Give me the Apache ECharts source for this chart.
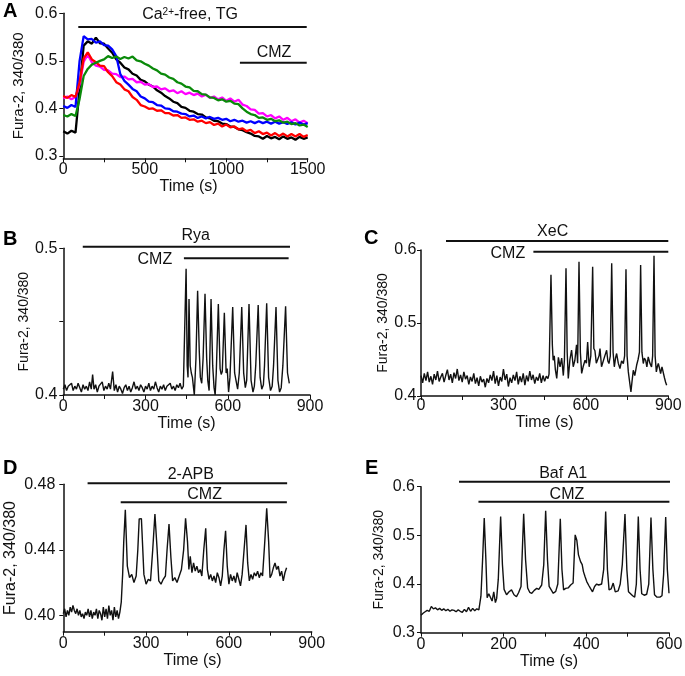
<!DOCTYPE html>
<html><head><meta charset="utf-8">
<script src="https://cdn.jsdelivr.net/npm/echarts@6/dist/echarts.min.js"></script>
<style>html,body{margin:0;padding:0;background:#fff}#c{width:685px;height:676px}</style>
</head><body><div id="c"></div>
<script>
// ---------- Panel A data (time in s, Fura-2 ratio) ----------
const timeA = [0,25,50,75,100,125,150,175,200,225,250,275,300,325,350,375,400,425,450,475,500,525,550,575,600,625,650,675,700,725,750,775,800,825,850,875,900,925,950,975,1000,1025,1050,1075,1100,1125,1150,1175,1200,1225,1250,1275,1300,1325,1350,1375,1400,1425,1450,1475,1500];
const aBlack = [0.352,0.347,0.353,0.349,0.440,0.532,0.541,0.536,0.549,0.537,0.536,0.526,0.517,0.503,0.496,0.486,0.482,0.473,0.469,0.460,0.457,0.450,0.446,0.438,0.433,0.426,0.421,0.414,0.411,0.403,0.401,0.395,0.393,0.388,0.387,0.381,0.379,0.374,0.373,0.368,0.367,0.362,0.361,0.356,0.354,0.350,0.347,0.342,0.341,0.336,0.342,0.337,0.340,0.335,0.341,0.336,0.339,0.334,0.340,0.336,0.339];
const aRed = [0.426,0.422,0.428,0.424,0.455,0.505,0.518,0.503,0.497,0.490,0.489,0.476,0.468,0.455,0.450,0.440,0.436,0.424,0.418,0.407,0.404,0.399,0.400,0.395,0.396,0.390,0.390,0.385,0.386,0.380,0.381,0.376,0.377,0.372,0.374,0.369,0.371,0.365,0.368,0.362,0.366,0.360,0.362,0.356,0.358,0.352,0.355,0.348,0.352,0.346,0.349,0.343,0.348,0.342,0.347,0.341,0.346,0.341,0.346,0.340,0.344];
const aBlue = [0.405,0.401,0.407,0.403,0.500,0.552,0.545,0.546,0.538,0.541,0.533,0.532,0.524,0.510,0.472,0.458,0.450,0.441,0.436,0.425,0.421,0.414,0.413,0.407,0.406,0.400,0.399,0.394,0.393,0.389,0.388,0.383,0.385,0.380,0.383,0.379,0.382,0.378,0.380,0.376,0.378,0.373,0.376,0.372,0.374,0.370,0.373,0.369,0.373,0.369,0.372,0.368,0.372,0.368,0.371,0.367,0.371,0.366,0.370,0.366,0.369];
const aMagenta = [0.421,0.425,0.419,0.424,0.450,0.498,0.513,0.497,0.490,0.488,0.481,0.480,0.473,0.472,0.466,0.467,0.461,0.462,0.455,0.456,0.450,0.451,0.445,0.446,0.440,0.442,0.436,0.438,0.432,0.436,0.430,0.433,0.428,0.431,0.425,0.429,0.422,0.425,0.419,0.423,0.416,0.421,0.414,0.418,0.408,0.405,0.398,0.397,0.389,0.390,0.383,0.386,0.379,0.383,0.376,0.380,0.373,0.377,0.370,0.374,0.369];
const aGreen = [0.386,0.383,0.388,0.384,0.420,0.468,0.483,0.492,0.496,0.500,0.503,0.510,0.506,0.509,0.504,0.508,0.505,0.509,0.501,0.499,0.494,0.490,0.484,0.480,0.473,0.471,0.465,0.462,0.455,0.452,0.446,0.444,0.437,0.436,0.430,0.429,0.423,0.422,0.417,0.419,0.414,0.416,0.410,0.409,0.400,0.393,0.388,0.386,0.380,0.381,0.376,0.378,0.373,0.375,0.370,0.372,0.367,0.369,0.364,0.366,0.361];

// ---------- Panels B-E traces: [time s, ratio] ----------
const traceB = [[0,0.404],[6,0.407],[12,0.403],[18,0.406],[24,0.405],[30,0.408],[36,0.403],[42,0.406],[48,0.404],[54,0.408],[60,0.405],[66,0.402],[72,0.407],[78,0.404],[84,0.406],[90,0.403],[96,0.409],[102,0.404],[107,0.414],[112,0.404],[118,0.407],[124,0.402],[130,0.406],[136,0.405],[142,0.409],[148,0.403],[154,0.406],[160,0.404],[166,0.408],[172,0.404],[180,0.416],[186,0.403],[192,0.407],[198,0.402],[204,0.406],[210,0.404],[216,0.401],[222,0.405],[228,0.407],[234,0.403],[240,0.406],[246,0.402],[252,0.405],[258,0.409],[264,0.404],[270,0.406],[276,0.403],[282,0.407],[288,0.405],[294,0.402],[300,0.406],[306,0.404],[312,0.408],[318,0.403],[324,0.406],[330,0.404],[336,0.409],[342,0.405],[348,0.402],[354,0.406],[360,0.404],[366,0.407],[372,0.403],[378,0.406],[384,0.405],[390,0.408],[396,0.404],[402,0.406],[408,0.403],[414,0.407],[420,0.405],[426,0.408],[432,0.404],[438,0.406],
[443,0.405],[448,0.486],[452,0.420],[455,0.412],[458.6,0.4655],[463,0.420],[467,0.415],[471,0.412],[475,0.405],[478,0.400],[484,0.425],[490,0.471],[496,0.430],[500,0.412],[505,0.408],[510,0.425],[517,0.469],[523,0.425],[527,0.410],[532,0.403],[539,0.4655],[545,0.420],[550,0.405],[554,0.400],[558,0.415],[565.6,0.462],[572,0.418],[576,0.414],[580,0.416],[587.5,0.456],[594,0.415],[598,0.418],[603,0.402],[608,0.412],[618,0.460],[625,0.415],[630,0.410],[636,0.404],[642,0.415],[651,0.460],[658,0.415],[664,0.405],[669,0.410],[677.5,0.462],[685,0.410],[692,0.402],[697,0.406],[702,0.420],[711,0.4614],[718,0.412],[724,0.404],[730,0.407],[734,0.420],[742,0.4625],[749,0.412],[756,0.403],[762,0.406],[767,0.420],[776,0.460],[783,0.410],[789,0.402],[795,0.405],[801,0.420],[811,0.4605],[818,0.415],[824.5,0.408]];

const traceC = [[0,0.428],[6,0.418],[12,0.431],[18,0.421],[24,0.433],[30,0.419],[36,0.427],[42,0.416],[48,0.430],[54,0.422],[60,0.434],[66,0.420],[72,0.426],[78,0.431],[84,0.419],[90,0.428],[96,0.436],[102,0.422],[108,0.430],[114,0.418],[120,0.432],[126,0.424],[132,0.437],[138,0.421],[144,0.429],[150,0.419],[156,0.433],[162,0.423],[168,0.428],[174,0.416],[180,0.426],[186,0.420],[192,0.431],[198,0.417],[204,0.425],[210,0.414],[216,0.427],[222,0.419],[228,0.423],[234,0.412],[240,0.424],[246,0.418],[252,0.429],[258,0.421],[264,0.434],[270,0.417],[276,0.428],[282,0.414],[288,0.426],[294,0.420],[300,0.437],[306,0.422],[312,0.430],[318,0.413],[324,0.425],[330,0.418],[336,0.429],[342,0.421],[348,0.433],[354,0.416],[360,0.427],[366,0.419],[372,0.431],[378,0.415],[384,0.428],[390,0.420],[396,0.434],[402,0.422],[408,0.429],[414,0.417],[420,0.426],[426,0.421],[432,0.431],[438,0.418],[444,0.428],[450,0.420],[456,0.427],[462,0.424],
[466,0.430],[473,0.566],[478,0.470],[481,0.449],[485,0.455],[489,0.436],[494,0.424],[500,0.453],[506,0.440],[512,0.452],[518,0.428],[522,0.450],[527.7,0.575],[532,0.460],[536,0.424],[542,0.450],[548,0.463],[554,0.440],[560,0.449],[566,0.470],[570,0.445],[575,0.584],[580,0.460],[584.7,0.431],[590,0.440],[597,0.449],[602,0.445],[606.5,0.474],[612,0.440],[618,0.455],[624.7,0.577],[629,0.465],[633,0.462],[638,0.445],[643,0.444],[648,0.455],[651.4,0.465],[657,0.440],[663.5,0.440],[669,0.455],[675.6,0.4627],[680,0.448],[684,0.4445],[689,0.455],[694,0.5818],[699,0.460],[703.5,0.440],[708,0.452],[712,0.4582],[718,0.445],[724,0.4376],[730,0.448],[736.3,0.4445],[741,0.455],[746,0.5735],[750,0.455],[754.5,0.433],[759,0.420],[764,0.4055],[768,0.420],[772.6,0.4353],[778,0.428],[784.7,0.4421],[790,0.450],[795,0.460],[799.3,0.5795],[804,0.460],[809,0.4445],[813,0.452],[817.6,0.449],[822,0.440],[827,0.4536],[833,0.445],[839,0.4398],[843,0.455],[848,0.5922],[852,0.455],[856.5,0.433],[860,0.440],[863.6,0.4445],[868,0.438],[872,0.4307],[877,0.440],[881.8,0.4421],[886,0.425],[890,0.4192],[894,0.4147]];

const traceD = [[0,0.401],[5,0.404],[10,0.399],[15,0.403],[20,0.400],[25,0.405],[30,0.402],[35,0.406],[40,0.403],[45,0.401],[50,0.404],[55,0.400],[60,0.403],[65,0.399],[70,0.401],[75,0.398],[80,0.402],[85,0.400],[90,0.404],[95,0.399],[100,0.403],[105,0.398],[110,0.402],[115,0.400],[120,0.404],[125,0.398],[130,0.403],[135,0.401],[140,0.397],[145,0.405],[150,0.399],[155,0.404],[160,0.398],[165,0.406],[170,0.400],[175,0.403],[180,0.397],[185,0.405],[190,0.399],[195,0.403],[200,0.398],[205,0.402],
[210,0.408],[215,0.425],[219,0.445],[224.7,0.4644],[232,0.430],[240,0.423],[248,0.425],[256,0.420],[264,0.424],[270,0.440],[275,0.4589],[283,0.459],[292,0.425],[300,0.419],[308,0.422],[316,0.421],[324,0.440],[332,0.4619],[340,0.440],[346,0.421],[354,0.419],[362,0.422],[370,0.424],[376,0.440],[383,0.4557],[390,0.435],[396,0.421],[404,0.423],[412,0.420],[420,0.424],[428,0.428],[436,0.440],[443,0.4593],[450,0.445],[455,0.428],[460,0.436],[466,0.426],[472,0.432],[478,0.427],[484,0.430],[490,0.426],[496,0.428],[502,0.424],[509,0.440],[516,0.4532],[522,0.428],[528,0.422],[534,0.425],[540,0.421],[546,0.424],[552,0.420],[558,0.426],[564,0.423],[570,0.418],[576,0.424],[582,0.440],[588,0.4516],[594,0.430],[600,0.419],[606,0.425],[612,0.421],[618,0.424],[624,0.420],[630,0.426],[636,0.422],[642,0.418],[648,0.425],[655,0.440],[662,0.4552],[668,0.432],[674,0.421],[680,0.425],[686,0.422],[692,0.426],[698,0.424],[704,0.427],[710,0.423],[716,0.426],[722,0.424],[730,0.445],[737,0.4654],[744,0.445],[749,0.423],[755,0.425],[761,0.429],[767,0.432],[773,0.428],[779,0.430],[785,0.424],[791,0.427],[797,0.421],[803,0.426],[809,0.429]];

const traceE = [[0,0.336],[5,0.340],[10,0.343],[15,0.346],[20,0.344],[25,0.354],[30,0.349],[35,0.351],[40,0.347],[45,0.350],[50,0.346],[55,0.349],[60,0.345],[65,0.348],[70,0.344],[75,0.347],[80,0.346],[85,0.343],[90,0.347],[95,0.344],[100,0.342],[105,0.348],[110,0.343],[115,0.352],[120,0.344],[125,0.350],[130,0.345],[135,0.349],[140,0.347],
[145,0.375],[149,0.450],[153,0.5354],[157,0.450],[160,0.372],[164,0.380],[168,0.384],[172,0.365],[176,0.384],[180,0.362],[183,0.370],[187,0.410],[192.7,0.5387],[197,0.440],[201,0.389],[207,0.378],[213,0.384],[219,0.388],[225,0.378],[231,0.374],[236,0.382],[242,0.395],[248.4,0.5443],[253,0.450],[258,0.392],[263,0.383],[268,0.381],[274,0.387],[280,0.391],[285,0.389],[292,0.398],[297,0.440],[301.6,0.5505],[306,0.450],[310,0.395],[315,0.388],[320,0.381],[326,0.385],[331,0.400],[337,0.534],[341,0.430],[345,0.388],[350,0.391],[356,0.392],[362,0.398],[368,0.402],[373,0.501],[377,0.490],[381,0.460],[386,0.446],[390,0.440],[393,0.4255],[397,0.415],[401,0.405],[406,0.397],[410,0.391],[415,0.384],[420,0.395],[425,0.400],[430,0.398],[437,0.400],[442,0.430],[446.8,0.549],[451,0.430],[455,0.388],[460,0.390],[465,0.402],[470,0.384],[477,0.386],[482,0.400],[487,0.440],[493.5,0.544],[498,0.430],[502,0.384],[507,0.380],[512,0.376],[517,0.373],[521,0.400],[525.7,0.5387],[530,0.430],[534,0.380],[540,0.377],[546,0.379],[551,0.400],[556.4,0.5367],[561,0.430],[565,0.378],[571,0.373],[578,0.373],[583,0.376],[587,0.420],[592,0.5375],[596,0.430],[600,0.381]];

// ---------- Treatment bars: [label, start s, end s] ----------
const treatA = [['Ca2+-free, TG', 92, 1494], ['CMZ', 1084, 1494]];
const treatB = [['Rya', 71, 827], ['CMZ', 440, 822]];
const treatC = [['XeC', 91, 900], ['CMZ', 409, 900]];
const treatD = [['2-APB', 88, 811], ['CMZ', 208, 810]];
const treatE = [['Baf A1', 92, 603], ['CMZ', 139, 601]];

// ---------- Tick labels ----------
const yTicksA = [0.3, 0.4, 0.5, 0.6];
const yTicksB = [0.4, 0.45, 0.5], yLabelsB = [0.4, 0.5];
const yTicksC = [0.4, 0.5, 0.6];
const yTicksD = [0.40, 0.44, 0.48];
const yTicksE = [0.3, 0.4, 0.5, 0.6];

// ---------- Layout ----------
const FONT = '"Liberation Sans", Arial, sans-serif';
const INK = '#111111';
const panels = [
  {letter:'A', grid:{left:63.3, top:13.3, width:244.4, height:145}, xMax:1500, xStep:500, yMin:0.295, yMax:0.6, ticks:yTicksA, labels:yTicksA, dec:1,
   treat:treatA, barY:[0.5712,0.4961], labelPos:[[778,0.5964],[1293,0.5175]], yNameGap:37, yNameSize:15, yMargin:6, xMargin:3, xNameGap:19, xNamePad:6, letterPos:[3,1]},
  {letter:'B', grid:{left:63.3, top:248.3, width:246.7, height:146.7}, xMax:900, xStep:300, yMin:0.4, yMax:0.5, ticks:yTicksB, labels:yLabelsB, dec:1,
   treat:treatB, barY:[0.5011,0.4932], labelPos:[[483,0.509],[334,0.4922]], yNameGap:31, yNameSize:14, yMargin:6, xMargin:4, xNameGap:19, xNamePad:0, letterPos:[3,229]},
  {letter:'C', grid:{left:421, top:250, width:247.3, height:146}, xMax:900, xStep:300, yMin:0.4, yMax:0.6, ticks:yTicksC, labels:yTicksC, dec:1,
   treat:treatC, barY:[0.6124,0.5977], labelPos:[[479,0.6251],[316,0.5955]], yNameGap:31, yNameSize:14, yMargin:4.5, xMargin:2, xNameGap:18, xNamePad:0, letterPos:[364,228]},
  {letter:'D', grid:{left:63.3, top:484.3, width:248.4, height:147.4}, xMax:900, xStep:300, yMin:0.39, yMax:0.48, ticks:yTicksD, labels:yTicksD, dec:2,
   treat:treatD, barY:[0.4806,0.4691], labelPos:[[462,0.4857],[512,0.4735]], yNameGap:45, yNameSize:16, yMargin:8, xMargin:4, xNameGap:15, xNamePad:10, letterPos:[3,458]},
  {letter:'E', grid:{left:421, top:486.7, width:248, height:146}, xMax:600, xStep:200, yMin:0.3, yMax:0.6, ticks:yTicksE, labels:yTicksE, dec:1,
   treat:treatE, barY:[0.6103,0.5692], labelPos:[[344,0.6275],[353,0.583]], yNameGap:35, yNameSize:14, yMargin:6, xMargin:4, xNameGap:11, xNamePad:8, letterPos:[365,458]}
];

const traces = [
  [{d: timeA.map((t,i)=>[t,aBlack[i]]), c:'#000000'},
   {d: timeA.map((t,i)=>[t,aMagenta[i]]), c:'#ff00ff'},
   {d: timeA.map((t,i)=>[t,aBlue[i]]), c:'#0000ff'},
   {d: timeA.map((t,i)=>[t,aRed[i]]), c:'#ff0000'},
   {d: timeA.map((t,i)=>[t,aGreen[i]]), c:'#0a8a0a'}],
  [{d: traceB, c:'#111111'}],
  [{d: traceC, c:'#111111'}],
  [{d: traceD, c:'#111111'}],
  [{d: traceE, c:'#111111'}]
];

function richName(s){
  if (s.indexOf('Ca2+') === 0) return '{n|Ca}{s|2+}{n|' + s.slice(4) + '}';
  return '{n|' + s + '}';
}

const grids=[], xAxes=[], yAxes=[], series=[], graphics=[];
panels.forEach((p,i)=>{
  grids.push(Object.assign({outerBoundsMode:'none', containLabel:false}, p.grid));
  xAxes.push({type:'value', gridIndex:i, min:0, max:p.xMax, interval:p.xStep,
    name:'Time (s)', nameLocation:'middle', nameGap:p.xNameGap,
    nameTextStyle:{fontSize:16, color:INK, fontFamily:FONT, padding:[0,0,0,p.xNamePad]},
    axisLine:{show:true, onZero:false, lineStyle:{color:INK, width:1.5}},
    axisTick:{show:true, inside:false, length:4, lineStyle:{color:INK, width:1}},
    minorTick:{show:true, splitNumber:2, length:4, lineStyle:{color:INK, width:1}},
    axisLabel:{fontSize:16, color:INK, fontFamily:FONT, margin:p.xMargin, formatter:v=>String(v)},
    splitLine:{show:false}, minorSplitLine:{show:false}});
  yAxes.push({type:'value', gridIndex:i, min:p.yMin, max:p.yMax,
    name:'Fura-2, 340/380', nameLocation:'middle', nameGap:p.yNameGap,
    nameTextStyle:{fontSize:p.yNameSize, color:INK, fontFamily:FONT},
    axisLine:{show:true, onZero:false, lineStyle:{color:INK, width:1.5}},
    axisTick:{show:true, inside:false, length:4, customValues:p.ticks, lineStyle:{color:INK, width:1}},
    axisLabel:{fontSize:16, color:INK, fontFamily:FONT, margin:p.yMargin, customValues:p.labels,
      formatter:v=>Number(v).toFixed(p.dec)},
    splitLine:{show:false}});
  traces[i].forEach(tr=>{
    series.push({type:'line', xAxisIndex:i, yAxisIndex:i, data:tr.d, symbol:'none',
      lineStyle:{color:tr.c, width: i===0?2.3:1.4}, silent:true, animation:false});
  });
  p.treat.forEach((t,k)=>{
    series.push({type:'line', xAxisIndex:i, yAxisIndex:i, clip:false, symbol:'none', silent:true, animation:false,
      data:[[t[1], p.barY[k]],[t[2], p.barY[k]]], lineStyle:{color:INK, width:2}});
  });
  series.push({type:'scatter', xAxisIndex:i, yAxisIndex:i, clip:false, symbolSize:0, silent:true, animation:false,
    itemStyle:{color:'#ffffff', opacity:0},
    data:p.treat.map((t,k)=>({value:[p.labelPos[k][0], p.labelPos[k][1]], name:t[0]})),
    label:{show:true, position:'inside', color:INK, fontFamily:FONT, fontSize:16, textBorderWidth:0, opacity:1,
      formatter: prm => richName(prm.name),
      rich:{n:{fontSize:16, color:INK, fontFamily:FONT, textBorderWidth:0},
            s:{fontSize:10, color:INK, fontFamily:FONT, textBorderWidth:0, verticalAlign:'top', lineHeight:10, padding:[0,0,6,0]}}}});
  graphics.push({type:'text', left:p.letterPos[0], top:p.letterPos[1], silent:true,
    style:{text:p.letter, font:'bold 20px ' + FONT, fill:'#000'}});
});

const chart = echarts.init(document.getElementById('c'), null, {renderer:'canvas'});
chart.setOption({
  animation:false, backgroundColor:'#ffffff',
  textStyle:{fontFamily:FONT},
  grid:grids, xAxis:xAxes, yAxis:yAxes, series:series, graphic:graphics
});
</script></body></html>
